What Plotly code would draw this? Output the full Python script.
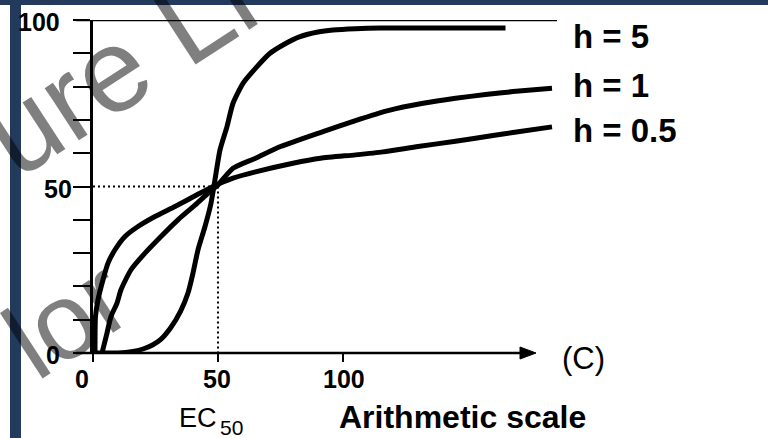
import plotly.graph_objects as go

# Hill slopes of the three concentration-effect curves
h_values = [5, 1, 0.5]

# Concentration (C) and effect (%)
h5_conc = [1.5, 10, 16, 20, 24, 27, 31, 35, 38, 40, 42, 44.8, 47.2, 49, 50.8, 53.6,
           56, 60, 65.6, 70.8, 76, 82.8, 90, 96, 105, 115, 130, 150, 165]
h5_effect = [0, 0, 0.5, 1.2, 2.5, 4, 7.5, 12.5, 18, 24, 31, 38, 45, 53, 61, 68,
             75, 81, 86, 90, 92.5, 95, 96.4, 97, 97.4, 97.6, 97.6, 97.6, 97.6]

h1_conc = [3.6, 5.6, 7.2, 9.6, 11.2, 15.2, 20.8, 27.2, 34, 40.8, 46.8, 50, 56, 65,
           75, 92, 105, 118, 132, 145, 157, 168, 183.6]
h1_effect = [0, 6, 11, 15, 19, 25, 30, 35, 40, 44.4, 48.5, 50.5, 55.5, 58.5,
             62, 66.5, 69.8, 72.8, 75, 76.5, 77.6, 78.5, 79.5]

h05_conc = [0.8, 1.0, 2, 4, 6, 8.8, 12.8, 18, 24.8, 32.8, 41.6, 48, 56, 65, 80, 91,
            105, 116, 130, 145, 160, 168, 183.6]
h05_effect = [0, 11, 16, 22, 27, 31, 35, 38, 41, 44, 47.5, 50, 52.5, 54.4, 57, 58.5,
              59.5, 60.4, 62, 63.6, 65.3, 66.2, 67.9]

# EC50 guide
ec50 = 50
half_effect = 50

# Axis ticks and labels
y_tick_values = [0, 10, 20, 30, 40, 50, 60, 70, 80, 90, 100]
y_label_values = [0, 50, 100]
x_tick_values = [0, 50, 100]

# Figure geometry (pixels)
W, H = 768, 438
L, T = 93, 20
PW, PH = 465, 333


def px(xp):
    return (xp - L) / PW


def py(yp):
    return (T + PH - yp) / PH


INK = "black"
NAVY = "#233a5c"
FONT = "Liberation Sans, Arial, sans-serif"
MARK = "rgba(0,0,0,0.5)"

fig = go.Figure()

series = [(h5_conc, h5_effect), (h1_conc, h1_effect), (h05_conc, h05_effect)]
for h, (cx, cy) in zip(h_values, series):
    fig.add_trace(go.Scatter(
        x=cx, y=cy, mode="lines", name=f"h = {h}",
        line=dict(color=INK, width=5, shape="spline", smoothing=0.6),
        showlegend=False, hoverinfo="skip",
    ))

# dotted EC50 guides
guide = dict(color=INK, width=2, dash="2px,3px")
fig.add_trace(go.Scatter(x=[0, ec50], y=[half_effect, half_effect], mode="lines",
                         line=guide, showlegend=False, hoverinfo="skip"))
fig.add_trace(go.Scatter(x=[ec50, ec50], y=[half_effect, 0], mode="lines",
                         line=guide, showlegend=False, hoverinfo="skip"))

fig.update_layout(
    width=W, height=H,
    margin=dict(l=L, r=W - L - PW, t=T, b=H - T - PH, pad=0),
    paper_bgcolor="white", plot_bgcolor="white",
    xaxis=dict(range=[0, 186], showgrid=False, zeroline=False, showline=False,
               ticks="outside", tickvals=x_tick_values, ticklen=8, tickwidth=2,
               tickcolor=INK, showticklabels=False, fixedrange=True),
    yaxis=dict(range=[0, 100], showgrid=False, zeroline=False, showline=True,
               linecolor=INK, linewidth=2.5,
               ticks="outside", tickvals=y_tick_values, ticklen=17, tickwidth=2,
               tickcolor=INK, showticklabels=False, fixedrange=True),
)

shapes = []
# navy frame
shapes.append(dict(type="rect", xref="paper", yref="paper", x0=px(0), x1=px(W),
                   y0=py(5), y1=py(0), fillcolor=NAVY, line=dict(width=0), layer="below"))
shapes.append(dict(type="rect", xref="paper", yref="paper", x0=px(10), x1=px(21),
                   y0=py(H), y1=py(0), fillcolor=NAVY, line=dict(width=0), layer="below"))
# top rule at 100 %
shapes.append(dict(type="line", xref="paper", yref="y", x0=px(76), x1=px(557),
                   y0=100, y1=100, line=dict(color=INK, width=2.5)))
# concentration axis with arrow
shapes.append(dict(type="line", xref="paper", yref="paper", x0=px(76), x1=px(524),
                   y0=0, y1=0, line=dict(color=INK, width=2.5)))
shapes.append(dict(type="path", xref="paper", yref="paper",
                   path=f"M {px(520)} {py(347)} L {px(536)} {py(353)} L {px(520)} {py(359)} Z",
                   fillcolor=INK, line=dict(color=INK, width=1)))
fig.update_layout(shapes=shapes)

ann = []
# y tick labels
y_shift = {0: -31, 50: -19, 100: -31}
for v in y_label_values:
    ann.append(dict(x=0, y=v, xref="x", yref="y", text=f"<b>{v}</b>", showarrow=False,
                    xanchor="right", yanchor="middle", xshift=y_shift[v], yshift=-2,
                    font=dict(family=FONT, size=25, color=INK)))
# x tick labels
x_shift = {0: -11, 50: -1, 100: 1}
for v in x_tick_values:
    ann.append(dict(x=v, y=0, xref="x", yref="paper", text=f"<b>{v}</b>", showarrow=False,
                    xanchor="center", yanchor="middle", xshift=x_shift[v], yshift=-26,
                    font=dict(family=FONT, size=25, color=INK)))
# curve labels
label_y = {5: 37, 1: 85, 0.5: 130}
for h in h_values:
    ann.append(dict(x=px(571), y=py(label_y[h]), xref="paper", yref="paper",
                    text=f"<b>h = {h}</b>", showarrow=False, xanchor="left",
                    yanchor="middle", font=dict(family=FONT, size=33, color=INK)))
# axis captions
ann.append(dict(x=px(583), y=py(358), xref="paper", yref="paper", text="(C)",
                showarrow=False, xanchor="center", yanchor="middle",
                font=dict(family=FONT, size=31, color=INK)))
ann.append(dict(x=px(462), y=py(417), xref="paper", yref="paper",
                text="<b>Arithmetic scale</b>", showarrow=False, xanchor="center",
                yanchor="middle", font=dict(family=FONT, size=32, color=INK)))
ann.append(dict(x=px(198), y=py(418), xref="paper", yref="paper", text="EC",
                showarrow=False, xanchor="center", yanchor="middle",
                font=dict(family=FONT, size=27, color=INK)))
ann.append(dict(x=px(231), y=py(427), xref="paper", yref="paper", text="50",
                showarrow=False, xanchor="center", yanchor="middle",
                font=dict(family=FONT, size=21, color=INK)))
# watermark
ann.append(dict(x=px(118), y=py(66), xref="paper", yref="paper", text="ure Li",
                showarrow=False, xanchor="center", yanchor="middle", textangle=-33,
                font=dict(family=FONT, size=118, color=MARK)))
ann.append(dict(x=px(66), y=py(318), xref="paper", yref="paper", text="lor",
                showarrow=False, xanchor="center", yanchor="middle", textangle=-33,
                font=dict(family=FONT, size=108, color=MARK)))
fig.update_layout(annotations=ann)

fig.write_html("out.html")
